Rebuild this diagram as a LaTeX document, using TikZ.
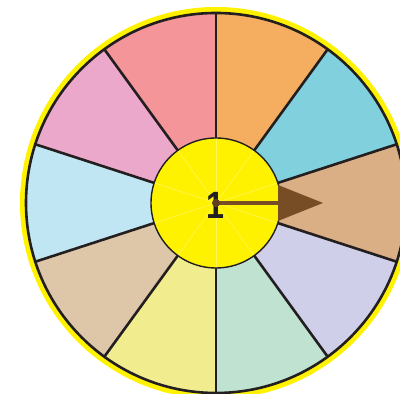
\documentclass[tikz,border=0pt]{standalone}
\usepackage{fontspec}
\usepackage{tikz}
\usetikzlibrary{calc}
\newfontfamily\hubfont{Liberation Sans}
\definecolor{rimyellow}{HTML}{FFF200}
\definecolor{edgedark}{HTML}{231F20}
\definecolor{ptrbrown}{HTML}{774D26}
\definecolor{sectred}{HTML}{F4959A}
\definecolor{sectorange}{HTML}{F5AE5F}
\definecolor{sectteal}{HTML}{80D0DE}
\definecolor{secttan}{HTML}{DBAF85}
\definecolor{sectlav}{HTML}{CFCFEA}
\definecolor{sectmint}{HTML}{BFE3D0}
\definecolor{sectpale}{HTML}{F1EC8E}
\definecolor{sectbeige}{HTML}{DEC6A8}
\definecolor{sectblue}{HTML}{C0E6F4}
\definecolor{sectpink}{HTML}{ECA8CB}

\begin{document}
\begin{tikzpicture}[x=0.5pt,y=0.5pt]
\useasboundingbox (0,0) rectangle (400,394);
\coordinate (c) at (216,191);
\fill[rimyellow] (c) circle (196);
\foreach \a/\col in {90/sectred, 54/sectorange, 18/sectteal, -18/secttan, -54/sectlav,
  -90/sectmint, -126/sectpale, -162/sectbeige, 162/sectblue, 126/sectpink}
  \fill[\col] (c) -- ($(c)+(\a:190)$) arc[start angle=\a, delta angle=36, radius=190] -- cycle;
\foreach \a in {90,54,18,-18,-54,-90,-126,-162,162,126}
  \draw[edgedark, line width=1.3pt] (c) -- ($(c)+(\a:190)$);
\draw[edgedark, line width=1.3pt] (c) circle (190);
% hub
\fill[rimyellow] (c) circle (65);
\foreach \a in {90,54,18,-18,-54,-90,-126,-162,162,126}
  \draw[white, opacity=0.35, line width=0.3pt] (c) -- ($(c)+(\a:65)$);
\draw[edgedark, line width=0.7pt] (c) circle (65);
\fill[ptrbrown] ($(c)+(62,18)$) -- ($(c)+(107,0)$) -- ($(c)+(62,-18)$) -- cycle;
\node[edgedark, xscale=0.85, font=\fontsize{19}{22}\hubfont\bfseries] (num) at ($(c)+(-1,-2)$) {1};
\draw[ptrbrown, line width=2.3pt] (c) -- ($(c)+(67,0)$);
\fill[ptrbrown!80!black] (c) circle (4);
\end{tikzpicture}
\end{document}
